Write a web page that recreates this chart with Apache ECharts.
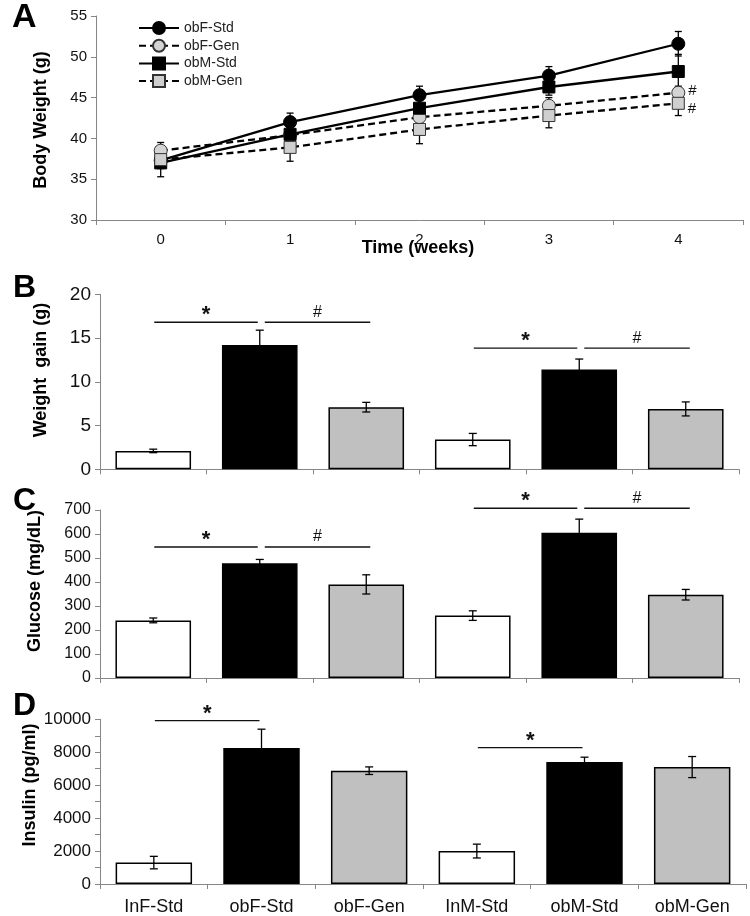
<!DOCTYPE html>
<html><head><meta charset="utf-8">
<script src="https://cdn.jsdelivr.net/npm/echarts@6/dist/echarts.min.js"></script>
<style>html,body{margin:0;padding:0;background:#fff}#c{width:750px;height:916px}</style>
</head><body><div id="c"></div>
<script>
// ---------- DATA ----------
const weeks = ['0','1','2','3','4'];
const obFStd = [37.3, 42.0, 45.3, 47.7, 51.6];
const obFStdErr = [0.8, 1.1, 1.1, 1.1, 1.5];
const obFGen = [38.5, 40.4, 42.6, 44.0, 45.6];
const obFGenErr = [1.0, 1.0, 1.0, 1.0, 0.8];
const obMStd = [37.0, 40.5, 43.7, 46.3, 48.2];
const obMStdErr = [1.7, 1.0, 1.0, 1.0, 2.1];
const obMGen = [37.4, 38.9, 41.1, 42.8, 44.3];
const obMGenErr = [1.1, 1.7, 1.75, 1.5, 1.5];

const groups = ['InF-Std','obF-Std','obF-Gen','InM-Std','obM-Std','obM-Gen'];
const weightGain = [2.1, 14.2, 7.1, 3.4, 11.4, 6.9];
const weightGainErr = [0.2, 1.7, 0.55, 0.7, 1.2, 0.8];
const glucose = [240, 478, 390, 260, 605, 347];
const glucoseErr = [10, 16, 40, 20, 57, 22];
const insulin = [1300, 8250, 6880, 2000, 7400, 7100];
const insulinErr = [380, 1150, 230, 420, 300, 640];

// significance brackets: [fromIndex, toIndex, yValue, symbol]
const sigB = [[0,1,16.8,'*'],[1,2,16.8,'#'],[3,4,13.85,'*'],[4,5,13.85,'#']];
const sigC = [[0,1,546,'*'],[1,2,546,'#'],[3,4,707,'*'],[4,5,707,'#']];
const sigD = [[0,1,9920,'*'],[3,4,8280,'*']];

// ---------- STYLE ----------
const barColors = ['#ffffff','#000000','#c0c0c0','#ffffff','#000000','#c0c0c0'];
const FONT = '"Liberation Sans", Arial, sans-serif';
const AXC = '#868686';
const TXT = '#111';

const chart = echarts.init(document.getElementById('c'), null, {renderer:'canvas'});

function errSeries(xi, yi, means, errs, capW, z){
  return {
    type:'custom', xAxisIndex:xi, yAxisIndex:yi, z:z||3, silent:true, clip:false,
    data: means.map((m,i)=>[i, m, errs[i]]),
    encode:{x:0, y:1},
    renderItem:function(params, api){
      const x = api.value(0), y = api.value(1), e = api.value(2);
      const t = api.coord([x, y+e]), b = api.coord([x, y-e]);
      const st = {stroke:'#000', lineWidth:1.3};
      return {type:'group', children:[
        {type:'line', shape:{x1:t[0],y1:t[1],x2:b[0],y2:b[1]}, style:st},
        {type:'line', shape:{x1:t[0]-capW/2,y1:t[1],x2:t[0]+capW/2,y2:t[1]}, style:st},
        {type:'line', shape:{x1:b[0]-capW/2,y1:b[1],x2:b[0]+capW/2,y2:b[1]}, style:st}
      ]};
    }
  };
}
function sigSeries(xi, yi, sig){
  return {
    type:'custom', xAxisIndex:xi, yAxisIndex:yi, z:5, silent:true, clip:false,
    data: sig.map(s=>[s[0], s[1], s[2]]),
    encode:{x:0, y:2},
    renderItem:function(params, api){
      const sym = sig[params.dataIndex][3];
      const a = api.coord([api.value(0), api.value(2)]);
      const b = api.coord([api.value(1), api.value(2)]);
      let x1, x2;
      if (sym === '*') { x1 = a[0]+1; x2 = b[0]-2; } else { x1 = a[0]+5; x2 = b[0]+4; }
      const mid = (x1+x2)/2;
      return {type:'group', children:[
        {type:'line', shape:{x1:x1,y1:a[1],x2:x2,y2:a[1]}, style:{stroke:'#111', lineWidth:1.4}},
        {type:'text', x:mid, y: sym==='*' ? a[1]-7 : a[1]-10,
          style:{text:sym, fontFamily:FONT, fontSize: sym==='*'?22:16, fontWeight: sym==='*'?'bold':'normal',
                 fill:'#111', align:'center', verticalAlign:'middle'}}
      ]};
    }
  };
}
function barSeries(xi, yi, vals){
  return {
    type:'bar', xAxisIndex:xi, yAxisIndex:yi, barWidth:'71%', z:2,
    data: vals.map((v,i)=>({value:v, itemStyle:{color:barColors[i]}})),
    itemStyle:{borderColor:'#000', borderWidth:1.5},
    silent:true
  };
}
function catAxis(gi, data, showLabels, fs){
  return {
    type:'category', gridIndex:gi, data:data, boundaryGap:true,
    axisLine:{lineStyle:{color:AXC, width:1}},
    axisTick:{show:true, length:5, lineStyle:{color:AXC}},
    axisLabel:{show:showLabels, color:TXT, fontFamily:FONT, fontSize:fs||15, margin:12}
  };
}
function valAxis(gi, min, max, interval, fs, extra){
  return Object.assign({
    type:'value', gridIndex:gi, min:min, max:max, interval:interval,
    splitLine:{show:false},
    axisLine:{show:true, lineStyle:{color:AXC, width:1}},
    axisTick:{show:true, length:5, lineStyle:{color:AXC}},
    axisLabel:{color:TXT, fontFamily:FONT, fontSize:fs, margin:9, formatter:function(v){return String(v);}}
  }, extra||{});
}

const lineCommon = {type:'line', xAxisIndex:0, yAxisIndex:0, z:4, silent:true};
function hashLast(arr, dy){
  return arr.map((v,i)=> i===arr.length-1 ? {value:v, label:{show:true, formatter:'#', position:'right', distance:3,
    offset:[0,dy], color:'#111', fontFamily:FONT, fontSize:15}} : v);
}

const option = {
  animation:false,
  backgroundColor:'#fff',
  textStyle:{fontFamily:FONT},
  legend:{
    data:['obF-Std','obF-Gen','obM-Std','obM-Gen'],
    orient:'vertical', left:133, top:16, itemWidth:40, itemHeight:15, itemGap:3.7,
    textStyle:{fontFamily:FONT, fontSize:14, color:'#222'}
  },
  grid:[
    {left:96, top:16, width:647, height:204},
    {left:100, top:294.3, width:639, height:175},
    {left:100, top:510, width:639, height:168},
    {left:100, top:719.3, width:646, height:165}
  ],
  xAxis:[
    catAxis(0, weeks, true, 15),
    catAxis(1, groups, false),
    catAxis(2, groups, false),
    Object.assign(catAxis(3, groups, true, 18), {axisLabel:{color:TXT, fontFamily:FONT, fontSize:18, margin:14}})
  ],
  yAxis:[
    valAxis(0, 30, 55, 5, 15),
    valAxis(1, 0, 20, 5, 19),
    valAxis(2, 0, 700, 100, 16),
    valAxis(3, 0, 10000, 2000, 17, {minorTick:{show:true, splitNumber:2, length:5, lineStyle:{color:AXC}}})
  ],
  graphic:[
    {type:'text', left:12, top:1, style:{text:'A', fontFamily:FONT, fontSize:34, fontWeight:'bold', fill:'#000'}},
    {type:'text', left:13, top:272, style:{text:'B', fontFamily:FONT, fontSize:32, fontWeight:'bold', fill:'#000'}},
    {type:'text', left:13, top:485, style:{text:'C', fontFamily:FONT, fontSize:32, fontWeight:'bold', fill:'#000'}},
    {type:'text', left:13, top:690, style:{text:'D', fontFamily:FONT, fontSize:32, fontWeight:'bold', fill:'#000'}},
    {type:'text', x:41, y:120, rotation:Math.PI/2, style:{text:'Body Weight (g)', fontFamily:FONT, fontSize:18, fontWeight:'bold', fill:'#000', align:'center', verticalAlign:'middle'}},
    {type:'text', x:41, y:370, rotation:Math.PI/2, style:{text:'Weight  gain (g)', fontFamily:FONT, fontSize:18, fontWeight:'bold', fill:'#000', align:'center', verticalAlign:'middle'}},
    {type:'text', x:35, y:581, rotation:Math.PI/2, style:{text:'Glucose (mg/dL)', fontFamily:FONT, fontSize:18, fontWeight:'bold', fill:'#000', align:'center', verticalAlign:'middle'}},
    {type:'text', x:30, y:785, rotation:Math.PI/2, style:{text:'Insulin (pg/ml)', fontFamily:FONT, fontSize:18, fontWeight:'bold', fill:'#000', align:'center', verticalAlign:'middle'}},
    {type:'text', x:418, y:248, style:{text:'Time (weeks)', fontFamily:FONT, fontSize:18, fontWeight:'bold', fill:'#000', align:'center', verticalAlign:'middle'}}
  ],
  series:[
    errSeries(0,0,obFStd,obFStdErr,7,2),
    errSeries(0,0,obFGen,obFGenErr,7,2),
    errSeries(0,0,obMStd,obMStdErr,7,2),
    errSeries(0,0,obMGen,obMGenErr,7,2),
    Object.assign({}, lineCommon, {name:'obF-Std', data:obFStd, symbol:'circle', symbolSize:13,
      lineStyle:{color:'#000', width:2.3, type:'solid'}, itemStyle:{color:'#000', borderColor:'#000', borderWidth:1}}),
    Object.assign({}, lineCommon, {name:'obF-Gen', data:hashLast(obFGen,-2), symbol:'circle', symbolSize:13,
      lineStyle:{color:'#000', width:2.3, type:[7,4]}, itemStyle:{color:'#d4d4d4', borderColor:'#333', borderWidth:1}}),
    Object.assign({}, lineCommon, {name:'obM-Std', data:obMStd, symbol:'rect', symbolSize:12,
      lineStyle:{color:'#000', width:2.3, type:'solid'}, itemStyle:{color:'#000', borderColor:'#000', borderWidth:1}}),
    Object.assign({}, lineCommon, {name:'obM-Gen', data:hashLast(obMGen,6), symbol:'rect', symbolSize:12,
      lineStyle:{color:'#000', width:2.3, type:[7,4]}, itemStyle:{color:'#cfcfcf', borderColor:'#333', borderWidth:1}}),

    barSeries(1,1,weightGain), errSeries(1,1,weightGain,weightGainErr,8,3), sigSeries(1,1,sigB),
    barSeries(2,2,glucose), errSeries(2,2,glucose,glucoseErr,8,3), sigSeries(2,2,sigC),
    barSeries(3,3,insulin), errSeries(3,3,insulin,insulinErr,8,3), sigSeries(3,3,sigD)
  ]
};
chart.setOption(option);
</script>
</body></html>
